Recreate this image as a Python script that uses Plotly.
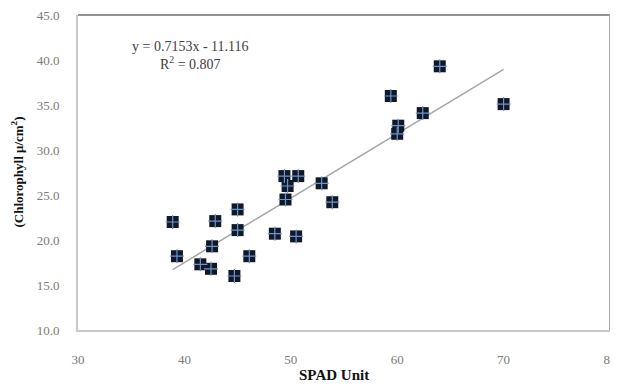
import plotly.graph_objects as go

spad = [38.9, 39.3, 41.5, 42.5, 42.6, 42.9, 44.7, 45.0, 45.0, 46.1, 48.5, 49.5,
        49.7, 50.5, 49.4, 50.7, 52.9, 53.9, 64.0, 59.4, 62.4, 60.1, 60.0, 70.0]
chl = [22.0, 18.2, 17.3, 16.8, 19.3, 22.1, 16.0, 23.4, 21.1, 18.2, 20.7, 24.5,
       26.0, 20.4, 27.1, 27.1, 26.3, 24.2, 39.3, 36.0, 34.1, 32.7, 31.8, 35.1]
slope = 0.7153
intercept = -11.116
x_ticks = [30, 40, 50, 60, 70, 80]
y_ticks = [10, 15, 20, 25, 30, 35, 40, 45]

xmin, xmax = min(spad), max(spad)
fit_x = [xmin, xmax]
fit_y = [slope * v + intercept for v in fit_x]

SERIF = "Liberation Serif"

fig = go.Figure()
fig.add_trace(go.Scatter(x=fit_x, y=fit_y, mode="lines",
                         line=dict(color="#a6a6a6", width=1.5), hoverinfo="skip"))
fig.add_trace(go.Scatter(x=spad, y=chl, mode="markers",
                         marker=dict(symbol="square", size=12, color="#111827",
                                     line=dict(width=0))))
fig.add_trace(go.Scatter(x=spad, y=chl, mode="markers",
                         marker=dict(symbol="cross-thin", size=10,
                                     line=dict(width=1.2, color="#6f93cf"))))

tickfont = dict(family=SERIF, size=13, color="#7a7a7a")
PW, PH = 532, 315
ML, MT, MB, MR = 70, 7, 56, 8
fig.update_layout(
    width=ML + PW + MR, height=MT + PH + MB,
    margin=dict(l=ML, r=MR, t=MT, b=MB, autoexpand=False),
    paper_bgcolor="white", plot_bgcolor="white",
    showlegend=False,
    xaxis=dict(range=[30, 80], tickvals=x_ticks, ticktext=[str(v) for v in x_ticks],
               showgrid=False, zeroline=False, showline=True, linecolor="#c8c8c8",
               linewidth=2, ticks="", tickfont=tickfont, ticklabelstandoff=16,
               ticklabeloverflow="allow"),
    yaxis=dict(range=[10, 45], tickvals=y_ticks, ticktext=[f"{v:.1f}" for v in y_ticks],
               showgrid=False, zeroline=False, showline=True, linecolor="#c8c8c8",
               linewidth=2, ticks="", tickfont=tickfont, ticklabelstandoff=14,
               ticklabeloverflow="allow"),
    shapes=[
        dict(type="line", xref="paper", yref="paper", x0=0, x1=1, y0=1, y1=1,
             line=dict(color="#6e6e6e", width=1.5)),
        dict(type="line", xref="paper", yref="paper", x0=1, x1=1, y0=0, y1=1,
             line=dict(color="#a8a8a8", width=2)),
    ],
    annotations=[
        dict(text="<b>SPAD Unit</b>", xref="paper", yref="paper", x=(334 - 78) / PW,
             y=-45 / PH, xanchor="center", yanchor="middle", showarrow=False,
             font=dict(family=SERIF, size=15, color="#111")),
        dict(text="<b>(Chlorophyll μ/cm<sup>2</sup>)</b>", xref="paper", yref="paper",
             x=(17 - 78) / PW, y=0.5, xanchor="center", yanchor="middle", textangle=-90,
             showarrow=False,
             font=dict(family=SERIF, size=13, color="#111")),
        dict(text=f"y = {slope}x - {abs(intercept)}<br>R<sup>2</sup> = 0.807",
             xref="paper", yref="paper", x=(190 - 78) / PW, y=(330 - 55) / PH,
             xanchor="center", yanchor="middle", showarrow=False, align="center",
             font=dict(family=SERIF, size=14, color="#404040")),
    ],
)

fig.write_html("out.html")
